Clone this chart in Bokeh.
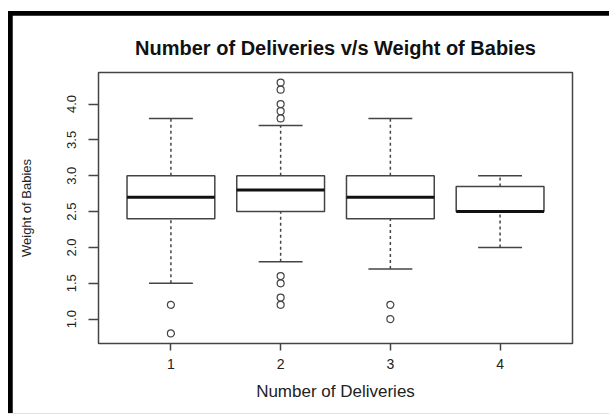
from bokeh.plotting import figure
from bokeh.layouts import column
from bokeh.models import FixedTicker, PrintfTickFormatter, ColumnDataSource
from bokeh.embed import file_html
from bokeh.resources import INLINE

# ---- data ----
groups = [1, 2, 3, 4]
q1 = [2.4, 2.5, 2.4, 2.5]
median = [2.7, 2.8, 2.7, 2.5]
q3 = [3.0, 3.0, 3.0, 2.85]
whisker_low = [1.5, 1.8, 1.7, 2.0]
whisker_high = [3.8, 3.7, 3.8, 3.0]
outliers_1 = [1.2, 0.8]
outliers_2 = [4.3, 4.2, 4.0, 3.9, 3.8, 1.6, 1.5, 1.3, 1.2]
outliers_3 = [1.2, 1.0]
outliers_4 = []
y_ticks = [1.0, 1.5, 2.0, 2.5, 3.0, 3.5, 4.0]

title = "Number of Deliveries v/s Weight of Babies"
x_title = "Number of Deliveries"
y_title = "Weight of Babies"

box_w = 0.8
cap_w = 0.4

FONT = "Liberation Sans"
INK = "#222222"
AXC = "#444444"

FW, FH = 597, 398
p = figure(width=FW, height=FH, output_backend="svg", toolbar_location=None,
           x_range=(0.34, 4.66), y_range=(0.66, 4.44),
           min_border_left=86, min_border_right=37, min_border_top=57, min_border_bottom=70,
           title=title)

p.background_fill_color = "white"
p.border_fill_color = "white"
p.outline_line_color = AXC
p.outline_line_width = 1.5
p.grid.visible = False

p.title.text_font = FONT
p.title.text_font_style = "bold"
p.title.text_font_size = "20px"
p.title.text_color = "#111111"
p.title.align = "center"
p.title.standoff = 28

src = ColumnDataSource(dict(x=groups, q1=q1, med=median, q3=q3,
                            lo=whisker_low, hi=whisker_high,
                            left=[g - box_w / 2 for g in groups],
                            right=[g + box_w / 2 for g in groups],
                            cl=[g - cap_w / 2 for g in groups],
                            cr=[g + cap_w / 2 for g in groups]))

# whiskers (dashed)
p.segment(x0="x", y0="q3", x1="x", y1="hi", source=src, line_color=AXC,
          line_width=1.5, line_dash="3 3")
p.segment(x0="x", y0="lo", x1="x", y1="q1", source=src, line_color=AXC,
          line_width=1.5, line_dash="3 3")
# caps
p.segment(x0="cl", y0="hi", x1="cr", y1="hi", source=src, line_color=AXC, line_width=1.5)
p.segment(x0="cl", y0="lo", x1="cr", y1="lo", source=src, line_color=AXC, line_width=1.5)
# boxes
p.quad(left="left", right="right", bottom="q1", top="q3", source=src,
       fill_color="white", line_color=AXC, line_width=1.5)
# medians
p.segment(x0="left", y0="med", x1="right", y1="med", source=src,
          line_color="#111111", line_width=3)

# outliers
ox, oy = [], []
for g, vals in zip(groups, [outliers_1, outliers_2, outliers_3, outliers_4]):
    for v in vals:
        ox.append(g)
        oy.append(v)
p.scatter(x=ox, y=oy, marker="circle", size=7,
          fill_color=None, line_color=AXC, line_width=1.2)

# axes
p.xaxis.ticker = FixedTicker(ticks=groups)
p.yaxis.ticker = FixedTicker(ticks=y_ticks)
p.yaxis.formatter = PrintfTickFormatter(format="%.1f")
for ax in (p.xaxis, p.yaxis):
    ax.axis_line_color = None
    ax.major_tick_line_color = AXC
    ax.major_tick_line_width = 1.5
    ax.minor_tick_line_color = None
    ax.major_tick_in = 0
    ax.major_label_text_font = FONT
    ax.major_label_text_color = INK
    ax.axis_label_text_font = FONT
    ax.axis_label_text_color = INK
    ax.axis_label_text_font_style = "normal"

p.xaxis.major_tick_out = 7
p.xaxis.major_label_text_font_size = "14px"
p.xaxis.major_label_standoff = 8
p.xaxis.axis_label = x_title
p.xaxis.axis_label_text_font_size = "17px"
p.xaxis.axis_label_standoff = 10

p.yaxis.major_tick_out = 10
p.yaxis.major_label_orientation = "vertical"
p.yaxis.major_label_text_font_size = "13px"
p.yaxis.major_label_standoff = 12
p.yaxis.axis_label = y_title
p.yaxis.axis_label_text_font_size = "13px"
p.yaxis.axis_label_standoff = 31

layout = column(p, width=FW, height=FH,
                styles={"background-color": "black", "padding-left": "4px",
                        "padding-top": "4px", "margin-left": "8px", "margin-top": "11px",
                        "border-bottom": "1px solid #e2e2e2",
                        "box-sizing": "content-box"})

open("out.html", "w").write(file_html(layout, INLINE))
